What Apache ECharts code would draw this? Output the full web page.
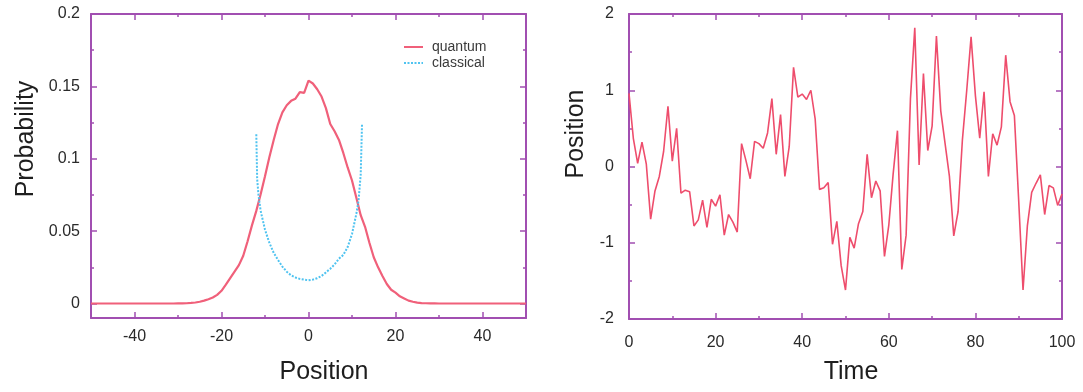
<!DOCTYPE html>
<html>
<head>
<meta charset="utf-8">
<script src="https://cdn.jsdelivr.net/npm/echarts@6/dist/echarts.min.js"></script>
<style>
  html, body { margin: 0; padding: 0; background: #fff; }
  #chart { width: 1083px; height: 392px; }
</style>
</head>
<body>
<div id="chart"></div>
<script>
// left panel: probability vs position (sampled at integer positions -50..50)
const positions = Array.from({ length: 101 }, (_, i) => i - 50)
const quantum = [
  0, 0, 0, 0, 0, 0, 0, 0, 0, 0, 0, 0, 0, 0, 0, 0, 0, 0, 0, 0,
  0.0001, 0.0001, 0.0002, 0.0004, 0.0007, 0.0012, 0.002, 0.003, 0.0042, 0.006,
  0.0088, 0.013, 0.0175, 0.022, 0.0265, 0.033, 0.043, 0.054, 0.064, 0.0755,
  0.088, 0.101, 0.113, 0.124, 0.132, 0.137, 0.14, 0.1415, 0.146, 0.1455,
  0.154, 0.152, 0.148, 0.143, 0.135, 0.124, 0.119, 0.113, 0.104, 0.094,
  0.085, 0.073, 0.061, 0.053, 0.042, 0.032, 0.025, 0.019, 0.0135, 0.0095,
  0.0075, 0.005, 0.0035, 0.002, 0.0012, 0.0006, 0.0003, 0.0002, 0.0001, 0.0001,
  0, 0, 0, 0, 0, 0, 0, 0, 0, 0, 0, 0, 0, 0, 0, 0, 0, 0, 0, 0, 0,
]
const classicalX = [-12, -11.8, -11.5, -11, -10, -9, -8, -7, -6, -5, -4, -3, -2, -1, 0,
  1, 2, 3, 4, 5, 6, 7, 8, 9, 10, 11, 11.5, 12, 12.3]
const classical = [0.117, 0.086, 0.075, 0.064, 0.051, 0.042, 0.035, 0.03, 0.0255, 0.022, 0.0195, 0.018, 0.017, 0.0165, 0.016,
  0.0165, 0.0175, 0.019, 0.0215, 0.024, 0.027, 0.031, 0.0335, 0.039, 0.048, 0.062, 0.071, 0.089, 0.1235]
const leftXLabels = [-40, -20, 0, 20, 40]
const leftXMinor = [-30, -10, 10, 30]
const leftYLabels = [0, 0.05, 0.1, 0.15, 0.2]
const leftYMinor = [0.025, 0.075, 0.125, 0.175]

// right panel: position vs time (t = 0..100)
const times = Array.from({ length: 101 }, (_, i) => i)
const walk = [
  0.96, 0.37, 0.04, 0.32, 0.03, -0.69, -0.32, -0.13, 0.2, 0.79,
  0.07, 0.5, -0.35, -0.31, -0.33, -0.78, -0.7, -0.44, -0.8, -0.43,
  -0.52, -0.37, -0.9, -0.63, -0.73, -0.86, 0.3, 0.08, -0.16, 0.33,
  0.3, 0.24, 0.44, 0.89, 0.16, 0.68, -0.13, 0.26, 1.3, 0.91,
  0.95, 0.88, 1.0, 0.62, -0.3, -0.28, -0.21, -1.02, -0.72, -1.3,
  -1.62, -0.93, -1.07, -0.75, -0.59, 0.16, -0.41, -0.19, -0.32, -1.18,
  -0.77, -0.1, 0.47, -1.35, -0.9, 0.89, 1.82, 0.02, 1.22, 0.21,
  0.53, 1.71, 0.73, 0.3, -0.13, -0.91, -0.59, 0.35, 1.0, 1.7,
  0.93, 0.37, 0.98, -0.13, 0.43, 0.28, 0.52, 1.46, 0.85, 0.67,
  -0.45, -1.62, -0.78, -0.34, -0.22, -0.11, -0.63, -0.25, -0.28, -0.51,
  -0.36,
]

const purple = "#a14fb1"
const labelColor = "#2a2a2a"
const font = "Liberation Sans, Arial, sans-serif"

// one side of the framed box: line + inward ticks, optional labels
function side(grid, position, opts) {
  const axis = {
    type: "value",
    gridIndex: grid,
    position: position,
    min: opts.min,
    max: opts.max,
    axisLine: { show: !opts.noLine, onZero: false, lineStyle: { color: purple, width: 2 } },
    axisTick: { show: true, inside: true, length: opts.tickLen || 6, lineStyle: { color: purple, width: 1.5 } },
    axisLabel: {
      show: !!opts.labels,
      color: labelColor,
      fontSize: 16,
      fontFamily: font,
      margin: opts.labelMargin || 10,
    },
    splitLine: { show: false },
  }
  if (opts.interval != null) {
    axis.interval = opts.interval
    axis.minorTick = { show: true, splitNumber: 2, length: 3, lineStyle: { color: purple, width: 1.5 } }
  }
  if (opts.ticks) {
    axis.axisTick.customValues = opts.ticks
    axis.axisLabel.customValues = opts.ticks
  }
  return axis
}

const chart = echarts.init(document.getElementById("chart"), null, { renderer: "canvas" })

const titleStyle = { fill: "#1e1e1e", font: "25px Liberation Sans", textAlign: "center", textVerticalAlign: "middle" }

chart.setOption({
  animation: false,
  backgroundColor: "#fff",
  textStyle: { fontFamily: font },
  grid: [
    { left: 91, right: 557, top: 14, bottom: 74 },
    { left: 629, right: 21, top: 14, bottom: 73 },
  ],
  xAxis: [
    side(0, "bottom", { min: -50, max: 50, ticks: leftXLabels, labels: true, labelMargin: 11 }),
    side(0, "top", { min: -50, max: 50, ticks: leftXLabels }),
    side(0, "bottom", { min: -50, max: 50, ticks: leftXMinor, tickLen: 3, noLine: true }),
    side(0, "top", { min: -50, max: 50, ticks: leftXMinor, tickLen: 3, noLine: true }),
    side(1, "bottom", { min: 0, max: 100, interval: 20, labels: true, labelMargin: 16 }),
    side(1, "top", { min: 0, max: 100, interval: 20 }),
  ],
  yAxis: [
    side(0, "left", { min: -0.01, max: 0.2, ticks: leftYLabels, labels: true, labelMargin: 11 }),
    side(0, "right", { min: -0.01, max: 0.2, ticks: leftYLabels }),
    side(0, "left", { min: -0.01, max: 0.2, ticks: leftYMinor, tickLen: 3, noLine: true }),
    side(0, "right", { min: -0.01, max: 0.2, ticks: leftYMinor, tickLen: 3, noLine: true }),
    side(1, "left", { min: -2, max: 2, interval: 1, labels: true, labelMargin: 15 }),
    side(1, "right", { min: -2, max: 2, interval: 1 }),
  ],
  legend: {
    data: ["quantum", "classical"],
    orient: "vertical",
    left: 398,
    top: 35,
    itemWidth: 19,
    itemHeight: 12,
    itemGap: 2,
    itemStyle: { opacity: 0 },
    textStyle: { fontSize: 14, color: "#3a3a3a", fontFamily: font, padding: [0, 0, 0, 4] },
  },
  graphic: [
    { type: "text", x: 26, y: 139, rotation: Math.PI / 2, style: Object.assign({ text: "Probability" }, titleStyle) },
    { type: "text", x: 324, y: 372, style: Object.assign({ text: "Position" }, titleStyle) },
    { type: "text", x: 576, y: 134, rotation: Math.PI / 2, style: Object.assign({ text: "Position" }, titleStyle) },
    { type: "text", x: 851, y: 372, style: Object.assign({ text: "Time" }, titleStyle) },
  ],
  series: [
    {
      name: "quantum",
      type: "line",
      xAxisIndex: 0,
      yAxisIndex: 0,
      symbol: "none",
      lineStyle: { color: "#f0607a", width: 2.2 },
      itemStyle: { color: "#f0607a" },
      data: positions.map((x, i) => [x, quantum[i]]),
    },
    {
      name: "classical",
      type: "line",
      xAxisIndex: 0,
      yAxisIndex: 0,
      symbol: "none",
      lineStyle: { color: "#4fc3f0", width: 2, type: [2, 1.5] },
      itemStyle: { color: "#4fc3f0" },
      data: classicalX.map((x, i) => [x, classical[i]]),
    },
    {
      name: "walk",
      type: "line",
      xAxisIndex: 4,
      yAxisIndex: 4,
      symbol: "none",
      lineStyle: { color: "#ee4d6c", width: 1.6 },
      data: times.map((t, i) => [t, walk[i]]),
    },
  ],
})
</script>
</body>
</html>
